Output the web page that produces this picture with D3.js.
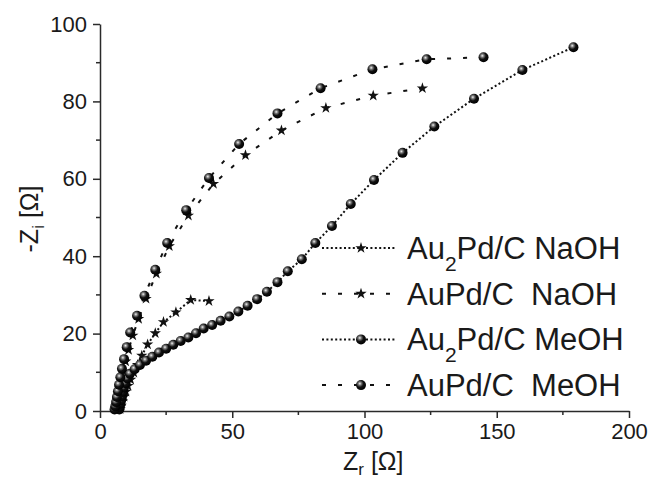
<!DOCTYPE html>
<html>
<head>
<meta charset="utf-8">
<script src="https://cdn.jsdelivr.net/npm/d3@7"></script>
<style>
  body { margin: 0; background: #fff; }
  svg text { font-family: "Liberation Sans", Arial, sans-serif; fill: #1a1a1a; }
</style>
</head>
<body>
<svg id="chart" width="649" height="482"></svg>
<script>
// Nyquist data: [Zr, -Zi] in ohm
const au2pdNaOH = [
  [7.6, 0.5], [8.0, 1.4], [8.5, 2.5], [9.1, 3.7], [9.8, 5.0], [10.6, 6.5], [11.6, 8.1],
  [12.8, 9.9], [14.2, 11.9], [15.8, 14.3], [18.0, 17.2], [20.9, 20.1], [24.0, 23.0],
  [28.7, 25.5], [34.3, 28.7], [41.2, 28.4]
];
const aupdNaOH = [
  [6.0, 0.6], [6.3, 1.6], [6.6, 2.8], [7.0, 4.3], [7.5, 6.0], [8.1, 8.0], [8.8, 10.2],
  [9.7, 12.8], [10.8, 15.8], [12.4, 19.5], [14.6, 23.8], [17.4, 29.0], [21.3, 35.5],
  [26.2, 42.6], [33.4, 50.5], [42.9, 58.7], [55.0, 66.1], [68.6, 72.5], [85.4, 78.3],
  [103.3, 81.5], [121.9, 83.4]
];
const au2pdMeOH = [
  [7.3, 0.4], [7.5, 1.1], [7.7, 1.9], [8.0, 2.8], [8.3, 3.8], [8.6, 4.9], [9.0, 6.0],
  [9.6, 7.2], [10.3, 8.4], [11.3, 9.6], [13.1, 10.8], [15.1, 11.9], [17.4, 13.0],
  [19.8, 14.0], [22.3, 15.1], [25.0, 16.1], [27.7, 17.1], [30.5, 18.1], [33.4, 19.0],
  [36.3, 20.1], [39.2, 21.3], [42.4, 22.2], [45.6, 23.3], [48.9, 24.4], [52.3, 25.7],
  [55.8, 27.2], [59.4, 28.9], [63.1, 30.8], [67.1, 33.3], [71.0, 36.1], [76.3, 39.2],
  [81.4, 43.4], [87.7, 47.8], [94.8, 53.5], [103.6, 59.7], [114.4, 66.7], [126.4, 73.5],
  [141.4, 80.7], [159.7, 88.1], [179.0, 94.0]
];
const aupdMeOH = [
  [5.5, 0.4], [5.8, 1.2], [6.1, 2.3], [6.4, 3.6], [6.8, 5.1], [7.2, 6.8], [7.7, 8.7],
  [8.3, 10.9], [9.1, 13.4], [10.1, 16.5], [11.4, 20.3], [14.0, 24.6], [16.8, 29.8],
  [20.9, 36.5], [25.4, 43.4], [32.6, 51.9], [41.2, 60.2], [52.6, 69.0], [67.1, 76.9],
  [83.4, 83.4], [103.0, 88.3], [123.5, 90.9], [145.0, 91.4]
];

const xTicks = [0, 50, 100, 150, 200];
const yTicks = [0, 20, 40, 60, 80, 100];

const series = [
  { sub: true,  name: ["Au", "2", "Pd/C NaOH"],  values: au2pdNaOH, marker: "star",   dash: "2 2.4" },
  { sub: false, name: ["AuPd/C  NaOH"],          values: aupdNaOH,  marker: "star",   dash: "4 12" },
  { sub: true,  name: ["Au", "2", "Pd/C MeOH"],  values: au2pdMeOH, marker: "sphere", dash: "2 2.4" },
  { sub: false, name: ["AuPd/C  MeOH"],          values: aupdMeOH,  marker: "sphere", dash: "4 12" }
];

const svg = d3.select("#chart");

const x = d3.scaleLinear().domain([0, 200]).range([100, 629]);
const y = d3.scaleLinear().domain([0, 100]).range([411, 24]);

// sphere shading
const grad = svg.append("defs").append("radialGradient")
  .attr("id", "ball").attr("cx", "38%").attr("cy", "35%").attr("r", "65%");
grad.append("stop").attr("offset", "0%").attr("stop-color", "#f2f2f2");
grad.append("stop").attr("offset", "25%").attr("stop-color", "#777");
grad.append("stop").attr("offset", "55%").attr("stop-color", "#111");
grad.append("stop").attr("offset", "100%").attr("stop-color", "#000");

const star = d3.symbol().type(d3.symbolStar).size(40);

const drawMarker = (g, type) => {
  if (type === "star") {
    g.append("path").attr("d", star).attr("fill", "#111");
  } else {
    g.append("circle").attr("r", 5).attr("fill", "url(#ball)");
  }
};

// axes
const axisColor = "#2a2a2a";

const xAxis = svg.append("g").attr("transform", `translate(0,${y(0)})`);
xAxis.call(d3.axisBottom(x).tickValues(xTicks).tickSize(7).tickSizeOuter(0).tickPadding(5));
xAxis.append("g").selectAll("line")
  .data(d3.range(25, 200, 50))
  .join("line")
    .attr("x1", d => x(d)).attr("x2", d => x(d))
    .attr("y1", 0).attr("y2", 4)
    .attr("stroke", axisColor).attr("stroke-width", 1.5);

const yAxis = svg.append("g").attr("transform", `translate(${x(0)},0)`);
yAxis.call(d3.axisLeft(y).tickValues(yTicks).tickSize(7).tickSizeOuter(0).tickPadding(6));
yAxis.append("g").selectAll("line")
  .data(d3.range(10, 100, 20))
  .join("line")
    .attr("y1", d => y(d)).attr("y2", d => y(d))
    .attr("x1", 0).attr("x2", -4)
    .attr("stroke", axisColor).attr("stroke-width", 1.5);

svg.selectAll(".domain, .tick line")
  .attr("stroke", axisColor).attr("stroke-width", 1.5);
svg.selectAll(".tick text")
  .attr("font-size", 22).attr("fill", "#1a1a1a")
  .style("font-family", "'Liberation Sans', Arial, sans-serif");

// axis titles
const xt = svg.append("text").attr("x", 343).attr("y", 470).attr("font-size", 25);
xt.append("tspan").text("Z");
xt.append("tspan").attr("font-size", 17).attr("dy", 5).text("r");
xt.append("tspan").attr("dy", -5).text(" [Ω]");

const yt = svg.append("text")
  .attr("transform", "translate(38,219) rotate(-90)")
  .attr("text-anchor", "middle").attr("font-size", 25);
yt.append("tspan").text("-Z");
yt.append("tspan").attr("font-size", 17).attr("dy", 6).text("i");
yt.append("tspan").attr("dy", -6).text(" [Ω]");

// curves
const line = d3.line().x(d => x(d[0])).y(d => y(d[1]));

series.forEach(s => {
  svg.append("path")
    .datum(s.values)
    .attr("d", line)
    .attr("fill", "none")
    .attr("stroke", "#111")
    .attr("stroke-width", 2)
    .attr("stroke-dasharray", s.dash);
});

series.forEach(s => {
  svg.append("g").selectAll("g")
    .data(s.values)
    .join("g")
      .attr("transform", d => `translate(${x(d[0])},${y(d[1])})`)
      .each(function () { drawMarker(d3.select(this), s.marker); });
});

// legend
const rowY = i => 248 + i * 45.7;
const legend = svg.append("g");
series.forEach((s, i) => {
  const row = legend.append("g").attr("transform", `translate(0,${rowY(i)})`);
  row.append("line")
    .attr("x1", 322).attr("x2", 396)
    .attr("stroke", "#111").attr("stroke-width", 2)
    .attr("stroke-dasharray", s.dash);
  drawMarker(row.append("g").attr("transform", "translate(361,0)"), s.marker);
  const t = row.append("text")
    .attr("x", 407).attr("y", 11)
    .attr("font-size", 31)
    .style("white-space", "pre");
  if (s.sub) {
    t.append("tspan").text(s.name[0]);
    t.append("tspan").attr("font-size", 21).attr("dy", 12).text(s.name[1]);
    t.append("tspan").attr("dy", -12).text(s.name[2]);
  } else {
    t.append("tspan").text(s.name[0]);
  }
});
</script>
</body>
</html>
